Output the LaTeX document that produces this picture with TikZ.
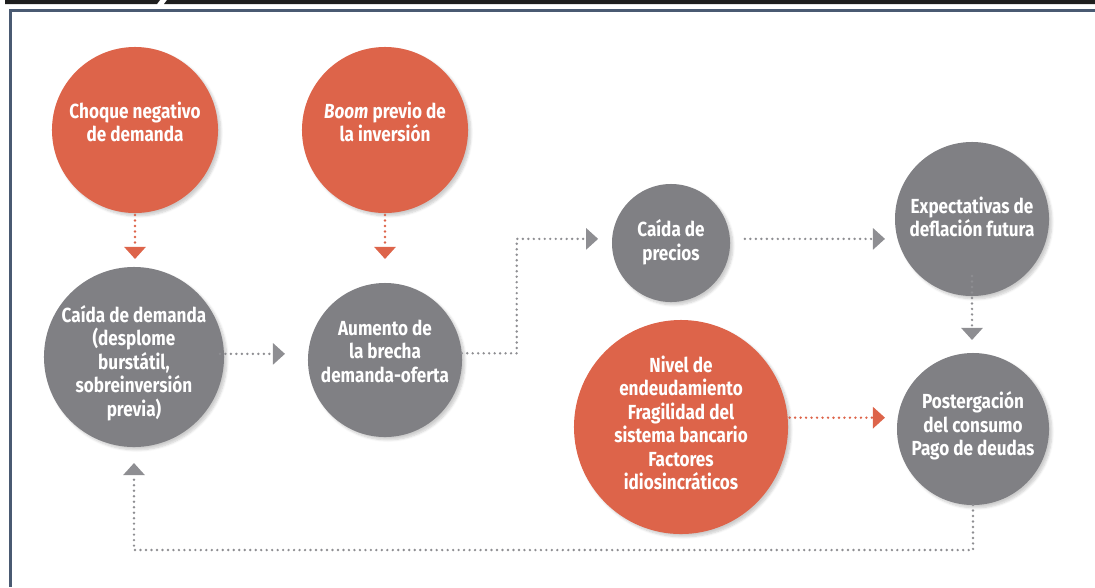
\documentclass[tikz,border=0pt]{standalone}
\usepackage{fontspec}
\setsansfont{Fira Sans}[FakeStretch=0.84]
\usepackage{xcolor}
\usetikzlibrary{arrows.meta}
\usetikzlibrary{shadows.blur}
\definecolor{rojizo}{HTML}{DD644A}
\definecolor{grisc}{HTML}{808084}
\definecolor{grisf}{HTML}{8E8E92}
\definecolor{marco}{HTML}{4A5A72}
\definecolor{negro}{HTML}{1E1E1E}

\begin{document}
\begin{tikzpicture}[x=0.025cm, y=-0.025cm]
      % Definimos algunos estilos
      \tikzstyle{circulo}=[
        circle,
        inner sep=0pt,
        outer sep=0pt,
        blur shadow={shadow xshift=2pt, shadow yshift=-2pt, shadow blur steps=6, shadow opacity=20}
      ]
      \tikzstyle{naranja}=[circulo, fill=rojizo]
      \tikzstyle{gris}=[circulo, fill=grisc]
      % texto blanco dentro de los circulos
      \tikzstyle{texto}=[
          align=center,
          text=white,
          font={\sffamily\bfseries\fontsize{14.5}{16.7}\selectfont}
      ]
      % flechas punteadas con punta triangular
      \tikzstyle{punteada}=[line width=1.9pt, line cap=round, dash pattern=on 0pt off 3.9pt,
          -{Triangle[width=0.525cm, length=0.3cm]}]

      \useasboundingbox (0,0) rectangle (1095,587);

      % marco
      \fill[negro] (5,0) -- (160,0) -- (157,4) -- (5,4) -- cycle;
      \fill[negro] (167,0) -- (1095,0) -- (1095,4) -- (164,4) -- cycle;
      \draw[marco, line width=0.068cm] (1095,10.7) -- (10.7,10.7) -- (10.7,587);

      % choques iniciales
      \node[naranja, minimum size=4.15cm] (choque) at (135,130) {};
      \node[texto] (choquetxt) at (135,122) {Choque negativo\\de demanda};
      \node[naranja, minimum size=4.15cm] (boom) at (385,130) {};
      \node[texto] (boomtxt) at (385,122) {\textit{Boom} previo de\\la inversión};

      % caida de demanda y brecha
      \node[gris, minimum size=4.5cm] (caidadem) at (134,357) {};
      \node[texto] (caidademtxt) at (134,363) {Caída de demanda\\(desplome\\burstátil,\\sobreinversión\\previa)};
      \node[gris, minimum size=3.85cm] (brecha) at (385,360) {};
      \node[texto] (brechatxt) at (385,351) {Aumento de\\la brecha\\demanda-oferta};

      % precios y expectativas
      \node[gris, minimum size=2.95cm] (precios) at (671,243) {};
      \node[texto] (preciostxt) at (671,242) {Caída de\\precios};
      \node[gris, minimum size=3.85cm] (expect) at (972,219) {};
      \node[texto] (expecttxt) at (972,217) {Expectativas de\\deflación futura};

      % factores y postergacion
      \node[naranja, minimum size=5.35cm] (nivel) at (681,427) {};
      \node[texto] (niveltxt) at (681,423) {Nivel de\\endeudamiento\\Fragilidad del\\sistema bancario\\Factores\\idiosincráticos};
      \node[gris, minimum size=3.8cm] (poster) at (973,429) {};
      \node[texto] (postertxt) at (973,426) {Postergación\\del consumo\\Pago de deudas};

      % flechas
      \draw[punteada, draw=rojizo, shorten <=0.05cm, shorten >=0.2cm] (choque.south) -- (choque.south |- caidadem.north);
      \draw[punteada, draw=rojizo, shorten <=0.05cm, shorten >=0.6cm] (boom.south) -- (brecha.north);
      \draw[punteada, draw=grisf, shorten <=-0.1cm, shorten >=0.575cm] (caidadem.2) -- (caidadem.2 -| brecha.west);
      \draw[punteada, draw=grisf, shorten >=0.35cm] (brecha.5) -- ++(55,0) |- (precios.176);
      \draw[punteada, draw=grisf, shorten <=0.375cm, shorten >=0.25cm] (precios.4) -- (precios.4 -| expect.west);
      \draw[punteada, draw=grisf, shorten <=-0.5cm, shorten >=0.325cm] (expect.south) -- (expect.south |- poster.north);
      \draw[punteada, draw=rojizo, shorten <=0.05cm, shorten >=0.3cm] (nivel.5) -- (nivel.5 -| poster.west);
      \draw[punteada, draw=grisf, shorten >=0.4cm] (poster.south) -- ++(0,45) -| (caidadem.south);
    \end{tikzpicture}
\end{document}
